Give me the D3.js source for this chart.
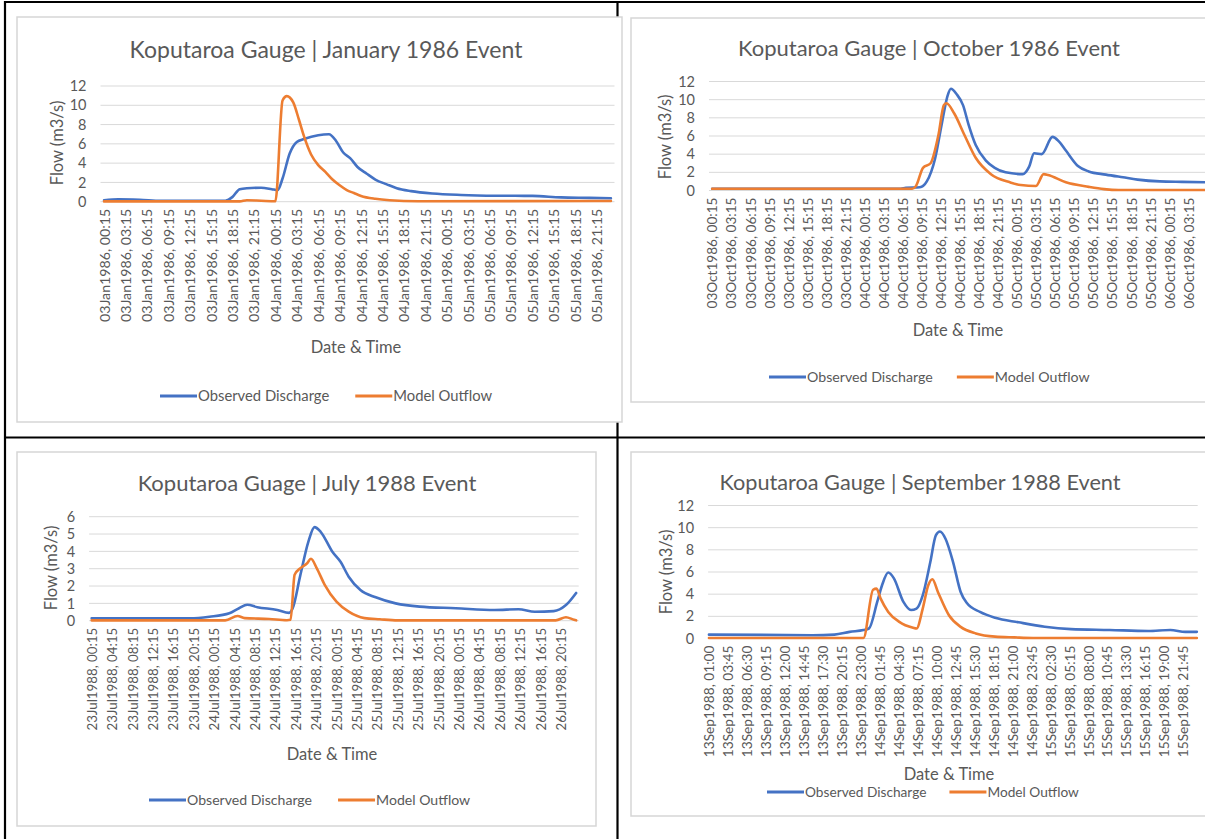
<!DOCTYPE html>
<html>
<head>
<meta charset="utf-8">
<script src="https://cdn.jsdelivr.net/npm/d3@7"></script>
<style>
  html, body { margin: 0; padding: 0; background: #ffffff; }
  svg { display: block; font-family: Lato, "Open Sans", sans-serif; }
</style>
</head>
<body>
<svg id="page" width="1205" height="839"></svg>
<script>
// ---------- Data: flow in m3/s, time as hours from the first category ----------

const seriesNames = ["Observed Discharge", "Model Outflow"];

// January 1986 event (hourly categories from 03Jan1986 00:15)
const janTicks = [
  "03Jan1986, 00:15", "03Jan1986, 03:15", "03Jan1986, 06:15", "03Jan1986, 09:15",
  "03Jan1986, 12:15", "03Jan1986, 15:15", "03Jan1986, 18:15", "03Jan1986, 21:15",
  "04Jan1986, 00:15", "04Jan1986, 03:15", "04Jan1986, 06:15", "04Jan1986, 09:15",
  "04Jan1986, 12:15", "04Jan1986, 15:15", "04Jan1986, 18:15", "04Jan1986, 21:15",
  "05Jan1986, 00:15", "05Jan1986, 03:15", "05Jan1986, 06:15", "05Jan1986, 09:15",
  "05Jan1986, 12:15", "05Jan1986, 15:15", "05Jan1986, 18:15", "05Jan1986, 21:15"
];
const janObserved = [
  [0,0.15],[2,0.25],[5,0.2],[8,0.1],[17,0.1],[18,0.5],[19,1.3],[20,1.4],[22,1.45],
  [23.5,1.3],[24.3,1.2],[25,2.4],[26,5.0],[27,6.2],[28,6.5],[30,6.9],[31.5,7.0],
  [32.5,6.3],[33.5,5.1],[34.5,4.5],[35.5,3.6],[36.8,2.9],[38,2.3],[39.6,1.8],
  [41,1.4],[43,1.1],[46,0.85],[50,0.7],[55,0.62],[60,0.6],[64,0.45],[68,0.4],[71,0.35]
];
const janModel = [
  [0,0.03],[19,0.03],[20,0.15],[22,0.1],[24,0.05],[25,10.5],[25.6,10.95],[26.5,10.3],
  [27.3,8.5],[28,6.8],[29,4.9],[30,3.8],[31,3.1],[32,2.3],[33,1.7],[34,1.2],[35,0.9],
  [36,0.6],[38,0.3],[40,0.15],[44,0.05],[71,0.08]
];

// October 1986 event (hourly categories from 03Oct1986 00:15)
const octTicks = [
  "03Oct1986, 00:15", "03Oct1986, 03:15", "03Oct1986, 06:15", "03Oct1986, 09:15",
  "03Oct1986, 12:15", "03Oct1986, 15:15", "03Oct1986, 18:15", "03Oct1986, 21:15",
  "04Oct1986, 00:15", "04Oct1986, 03:15", "04Oct1986, 06:15", "04Oct1986, 09:15",
  "04Oct1986, 12:15", "04Oct1986, 15:15", "04Oct1986, 18:15", "04Oct1986, 21:15",
  "05Oct1986, 00:15", "05Oct1986, 03:15", "05Oct1986, 06:15", "05Oct1986, 09:15",
  "05Oct1986, 12:15", "05Oct1986, 15:15", "05Oct1986, 18:15", "05Oct1986, 21:15",
  "06Oct1986, 00:15", "06Oct1986, 03:15"
];
const octObserved = [
  [0,0.2],[29.7,0.2],[30.5,0.3],[32.7,0.35],[33.8,1.0],[35.1,3.5],[36.2,7.5],
  [37.1,10.5],[37.6,11.2],[38.5,10.6],[39.5,9.4],[40.4,7.2],[41.5,5.0],[43.1,3.3],
  [44.5,2.5],[46.2,2.0],[48.9,1.8],[49.9,2.6],[50.7,4.1],[51.9,4.0],[53.6,5.9],
  [54.6,5.4],[55.7,4.4],[57.6,2.7],[59.3,2.1],[62,1.75],[64.7,1.45],[67,1.2],
  [70.5,1.0],[74,0.95],[79,0.9]
];
const octModel = [
  [0,0.2],[31.5,0.2],[32.1,0.5],[33.2,2.5],[34.4,3.0],[35.6,6.0],[36.5,9.4],
  [36.9,9.6],[38.1,8.5],[39.8,6.0],[41.5,3.6],[43.9,1.8],[46.9,0.9],[48.6,0.6],
  [51,0.5],[52.2,1.8],[52.9,1.7],[55.7,0.9],[59.3,0.4],[61.7,0.15],[64,0.05],[79,0.05]
];

// July 1988 event (hourly categories from 23Jul1988 00:15)
const julTicks = [
  "23Jul1988, 00:15", "23Jul1988, 04:15", "23Jul1988, 08:15", "23Jul1988, 12:15",
  "23Jul1988, 16:15", "23Jul1988, 20:15", "24Jul1988, 00:15", "24Jul1988, 04:15",
  "24Jul1988, 08:15", "24Jul1988, 12:15", "24Jul1988, 16:15", "24Jul1988, 20:15",
  "25Jul1988, 00:15", "25Jul1988, 04:15", "25Jul1988, 08:15", "25Jul1988, 12:15",
  "25Jul1988, 16:15", "25Jul1988, 20:15", "26Jul1988, 00:15", "26Jul1988, 04:15",
  "26Jul1988, 08:15", "26Jul1988, 12:15", "26Jul1988, 16:15", "26Jul1988, 20:15"
];
const julObserved = [
  [0,0.14],[19.3,0.14],[23.1,0.23],[27,0.43],[28.9,0.72],[30.5,0.92],[32.5,0.78],
  [36.4,0.62],[38.7,0.45],[39.4,0.7],[40.9,2.6],[42.5,4.56],[43.7,5.4],[44.9,5.13],
  [47.2,3.98],[48.8,3.4],[50.4,2.54],[52.7,1.77],[55.7,1.35],[59.6,1.0],[64.3,0.81],
  [71.4,0.72],[79,0.62],[83.7,0.66],[86.9,0.52],[90.6,0.55],[93,0.9],[95,1.6]
];
const julModel = [
  [0,0.02],[26.2,0.02],[28.6,0.27],[30,0.15],[34.8,0.1],[38.3,0.03],[39,0.05],
  [39.8,2.65],[41,3.05],[42.2,3.3],[43,3.57],[44.1,3.05],[45.7,2.07],[48,1.1],
  [50.4,0.52],[53.5,0.15],[56.5,0.08],[60,0.02],[91,0.02],[93,0.2],[94.6,0.05],[95,0.02]
];

// September 1988 event (15-minute categories from 13Sep1988 01:00)
const sepTicks = [
  "13Sep1988, 01:00", "13Sep1988, 03:45", "13Sep1988, 06:30", "13Sep1988, 09:15",
  "13Sep1988, 12:00", "13Sep1988, 14:45", "13Sep1988, 17:30", "13Sep1988, 20:15",
  "13Sep1988, 23:00", "14Sep1988, 01:45", "14Sep1988, 04:30", "14Sep1988, 07:15",
  "14Sep1988, 10:00", "14Sep1988, 12:45", "14Sep1988, 15:30", "14Sep1988, 18:15",
  "14Sep1988, 21:00", "14Sep1988, 23:45", "15Sep1988, 02:30", "15Sep1988, 05:15",
  "15Sep1988, 08:00", "15Sep1988, 10:45", "15Sep1988, 13:30", "15Sep1988, 16:15",
  "15Sep1988, 19:00", "15Sep1988, 21:45"
];
const sepObserved = [
  [0,0.35],[15,0.3],[18.2,0.35],[20.4,0.6],[22.4,0.77],[23.2,0.9],[24.4,3.3],
  [25.1,4.8],[26,5.95],[26.8,5.45],[28.2,3.3],[29.3,2.57],[30.1,2.7],[31,3.9],
  [32.1,6.9],[32.9,9.3],[33.5,9.65],[34.3,9.0],[35.4,6.9],[36.5,4.2],[37.4,3.2],
  [39.3,2.4],[41.5,1.87],[44.9,1.46],[48.7,1.06],[52.5,0.85],[58.1,0.77],
  [63.7,0.68],[66.9,0.77],[69.1,0.6],[70.75,0.6]
];
const sepModel = [
  [0,0.05],[22.4,0.05],[23.8,4.4],[24.3,4.5],[24.9,3.6],[26,2.4],[27.6,1.5],
  [29.6,0.97],[30.1,0.9],[31,2.7],[31.8,4.8],[32.4,5.35],[33.2,4.2],[34.8,2.1],
  [36.5,1.05],[38.7,0.46],[41.5,0.17],[44.3,0.1],[47,0.05],[70.75,0.05]
];

// ---------- Layout ----------
const colors = { observed: "#4472C4", model: "#ED7D31" };
const textGray = "#595959";
const gridGray = "#d9d9d9";

const charts = [
  {
    title: "Koputaroa Gauge | January 1986 Event", titleSize: 23,
    frame: { x: 17, y: 17, w: 605, h: 405 },
    titlePos: [326, 58],
    plot: { left: 100.5, right: 614.5, top: 86, bottom: 201.7 },
    categories: 72, catPerHour: 1, tickEveryHours: 3,
    ticks: janTicks, yMax: 12, yStep: 2,
    tickFont: 14.2, yTitlePos: [57, 143], xTitlePos: [356, 353],
    legend: { x: 160, y: 396, size: 14.8, gap: 26 },
    observed: janObserved, model: janModel
  },
  {
    title: "Koputaroa Gauge | October 1986 Event", titleSize: 22,
    frame: { x: 631, y: 18, w: 600, h: 384 },
    titlePos: [929, 56],
    plot: { left: 709, right: 1217, top: 81.5, bottom: 190.5 },
    categories: 80, catPerHour: 1, tickEveryHours: 3,
    ticks: octTicks, yMax: 12, yStep: 2,
    tickFont: 13.6, yTitlePos: [665, 137], xTitlePos: [958, 336],
    legend: { x: 769, y: 377, size: 14.2, gap: 24 },
    observed: octObserved, model: octModel
  },
  {
    title: "Koputaroa Guage | July 1988 Event", titleSize: 22,
    frame: { x: 17, y: 452, w: 579, h: 374 },
    titlePos: [307, 491],
    plot: { left: 89.1, right: 578.7, top: 516.7, bottom: 620.7 },
    categories: 96, catPerHour: 1, tickEveryHours: 4,
    ticks: julTicks, yMax: 6, yStep: 1,
    tickFont: 13.3, yTitlePos: [51, 568], xTitlePos: [332, 760],
    legend: { x: 149, y: 800, size: 14.1, gap: 26 },
    observed: julObserved, model: julModel
  },
  {
    title: "Koputaroa Gauge | September 1988 Event", titleSize: 21.7,
    frame: { x: 631, y: 452, w: 600, h: 364 },
    titlePos: [920, 490],
    plot: { left: 708.1, right: 1197.7, top: 505.5, bottom: 638.5 },
    categories: 284, catPerHour: 4, tickEveryHours: 2.75,
    ticks: sepTicks, yMax: 12, yStep: 2,
    tickFont: 13.7, yTitlePos: [666, 572], xTitlePos: [949, 780],
    legend: { x: 767, y: 792, size: 13.7, gap: 23 },
    observed: sepObserved, model: sepModel
  }
];

const svg = d3.select("#page");

// ---------- Table rules behind the charts ----------
const rules = svg.append("g").attr("stroke", "#000").attr("stroke-width", 2.2);
rules.append("line").attr("x1", 4).attr("x2", 1205).attr("y1", 2).attr("y2", 2);
rules.append("line").attr("x1", 5).attr("x2", 5).attr("y1", 1).attr("y2", 839);
rules.append("line").attr("x1", 4).attr("x2", 1205).attr("y1", 437.5).attr("y2", 437.5);
rules.append("line").attr("x1", 617.5).attr("x2", 617.5).attr("y1", 1).attr("y2", 839);

// ---------- Charts ----------
charts.forEach(c => {
  const g = svg.append("g");

  g.append("rect")
    .attr("x", c.frame.x).attr("y", c.frame.y)
    .attr("width", c.frame.w).attr("height", c.frame.h)
    .attr("fill", "#fff").attr("stroke", "#d6d6d6").attr("stroke-width", 1.5);

  // x in hours; categories are centred within their slots
  const x = d3.scaleLinear()
    .domain([-0.5 / c.catPerHour, (c.categories - 0.5) / c.catPerHour])
    .range([c.plot.left, c.plot.right]);
  const y = d3.scaleLinear().domain([0, c.yMax]).range([c.plot.bottom, c.plot.top]);

  // horizontal gridlines
  const yVals = d3.range(0, c.yMax + c.yStep / 2, c.yStep);
  g.append("g").selectAll("line").data(yVals).join("line")
    .attr("x1", c.plot.left).attr("x2", c.plot.right)
    .attr("y1", d => y(d)).attr("y2", d => y(d))
    .attr("stroke", gridGray).attr("stroke-width", 1);

  // y axis labels
  const yAxis = d3.axisLeft(y).tickValues(yVals).tickFormat(d3.format("d"))
    .tickSize(0).tickPadding(14);
  const ya = g.append("g").attr("transform", `translate(${c.plot.left},0)`).call(yAxis);
  ya.select(".domain").remove();
  ya.selectAll("text").attr("fill", textGray).attr("font-size", 14.5).attr("font-family", "Lato, sans-serif");

  // x axis labels (rotated category labels)
  const tickHours = c.ticks.map((t, i) => i * c.tickEveryHours);
  const xAxis = d3.axisBottom(x).tickValues(tickHours)
    .tickFormat((d, i) => c.ticks[i]).tickSize(0).tickPadding(0);
  const xa = g.append("g").attr("transform", `translate(0,${c.plot.bottom})`).call(xAxis);
  xa.select(".domain").remove();
  xa.selectAll("text")
    .attr("fill", textGray).attr("font-size", c.tickFont).attr("font-family", "Lato, sans-serif")
    .attr("text-anchor", "end")
    .attr("transform", "translate(0,7) rotate(-90)")
    .attr("x", 0).attr("y", 0).attr("dy", "0.35em");

  // series lines
  const line = d3.line().x(d => x(d[0])).y(d => y(d[1])).curve(d3.curveMonotoneX);
  const clipId = "clip" + c.frame.x + "_" + c.frame.y;
  g.append("clipPath").attr("id", clipId).append("rect")
    .attr("x", c.frame.x).attr("y", c.frame.y).attr("width", c.frame.w).attr("height", c.frame.h);
  const lines = g.append("g").attr("clip-path", `url(#${clipId})`)
    .attr("fill", "none").attr("stroke-width", 2.6)
    .attr("stroke-linejoin", "round").attr("stroke-linecap", "round");
  lines.append("path").attr("d", line(c.observed)).attr("stroke", colors.observed);
  lines.append("path").attr("d", line(c.model)).attr("stroke", colors.model);

  // titles
  g.append("text").attr("x", c.titlePos[0]).attr("y", c.titlePos[1])
    .attr("text-anchor", "middle").attr("font-size", c.titleSize).attr("fill", textGray)
    .text(c.title);
  g.append("text")
    .attr("transform", `translate(${c.yTitlePos[0]},${c.yTitlePos[1]}) rotate(-90)`)
    .attr("text-anchor", "middle").attr("dy", "0.35em")
    .attr("font-size", 16.5).attr("fill", textGray).text("Flow (m3/s)");
  g.append("text").attr("x", c.xTitlePos[0]).attr("y", c.xTitlePos[1])
    .attr("text-anchor", "middle").attr("font-size", 16.5).attr("fill", textGray)
    .text("Date & Time");

  // legend
  const lg = g.append("g").attr("transform", `translate(${c.legend.x},${c.legend.y})`);
  let lx = 0;
  [["observed", seriesNames[0]], ["model", seriesNames[1]]].forEach(([key, name]) => {
    lg.append("line").attr("x1", lx).attr("x2", lx + 37).attr("y1", 0).attr("y2", 0)
      .attr("stroke", colors[key]).attr("stroke-width", 3);
    const t = lg.append("text").attr("x", lx + 38).attr("y", 0).attr("dy", "0.35em")
      .attr("font-size", c.legend.size).attr("fill", textGray).text(name);
    lx += 38 + t.node().getComputedTextLength() + c.legend.gap;
  });
});
</script>
</body>
</html>
